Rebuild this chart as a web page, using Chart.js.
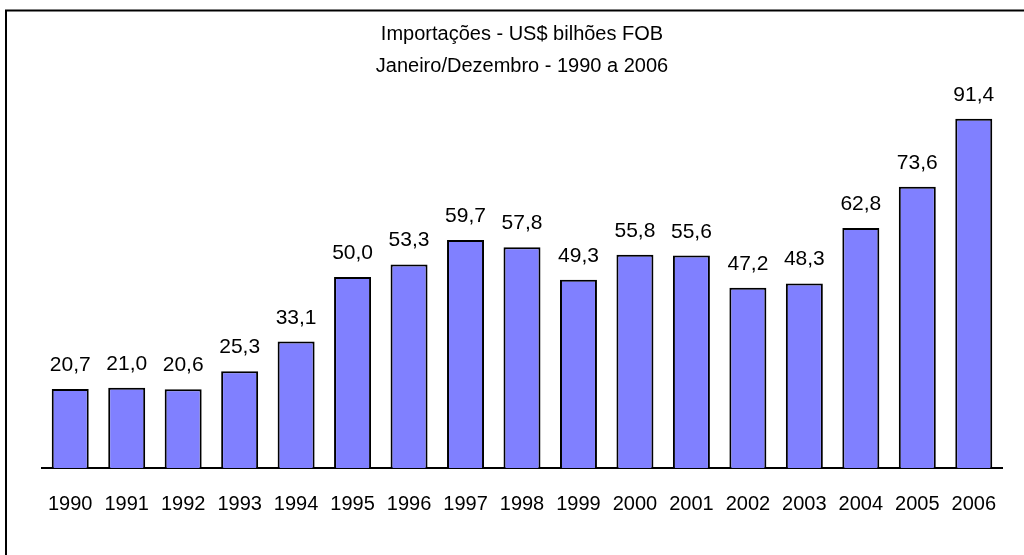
<!DOCTYPE html>
<html>
<head>
<meta charset="utf-8">
<script src="https://cdn.jsdelivr.net/npm/chart.js@4.4.1/dist/chart.umd.min.js"></script>
<style>
  html, body { margin: 0; padding: 0; background: #fff; overflow: hidden; }
  #wrap { width: 1024px; height: 555px; position: relative; }
</style>
</head>
<body>
<div id="wrap"><canvas id="chart" width="1024" height="555"></canvas></div>
<script>
const years = ["1990", "1991", "1992", "1993", "1994", "1995", "1996", "1997", "1998",
  "1999", "2000", "2001", "2002", "2003", "2004", "2005", "2006"];
const imports = [20.7, 21.0, 20.6, 25.3, 33.1, 50.0, 53.3, 59.7, 57.8,
  49.3, 55.8, 55.6, 47.2, 48.3, 62.8, 73.6, 91.4];
const titleLines = ["Importações - US$ bilhões FOB", "Janeiro/Dezembro - 1990 a 2006"];

const FONT = "Arial, 'Liberation Sans', sans-serif";

// moldura preta em volta do grafico
const frame = {
  id: "frame",
  beforeDraw(chart) {
    const ctx = chart.ctx;
    ctx.save();
    ctx.fillStyle = "#fff";
    ctx.fillRect(0, 0, chart.width, chart.height);
    ctx.strokeStyle = "#000";
    ctx.lineWidth = 2;
    ctx.strokeRect(6, 10.5, chart.width + 20, chart.height + 20);
    ctx.restore();
  }
};

// valores acima das barras, com virgula decimal
const valueLabels = {
  id: "valueLabels",
  afterDatasetsDraw(chart) {
    const ctx = chart.ctx;
    const meta = chart.getDatasetMeta(0);
    ctx.save();
    ctx.font = "21px " + FONT;
    ctx.fillStyle = "#000";
    ctx.textAlign = "center";
    ctx.textBaseline = "alphabetic";
    meta.data.forEach((bar, i) => {
      const txt = imports[i].toFixed(1).replace(".", ",");
      ctx.fillText(txt, bar.x, bar.y - 18);
    });
    ctx.restore();
  }
};

new Chart(document.getElementById("chart"), {
  type: "bar",
  data: {
    labels: years,
    datasets: [{
      data: imports,
      backgroundColor: "#8080FF",
      borderColor: "#000",
      borderWidth: 2,
      borderSkipped: "bottom",
      categoryPercentage: 1,
      barPercentage: 0.655
    }]
  },
  options: {
    responsive: false,
    animation: false,
    layout: { padding: { left: 42, right: 22, top: 0, bottom: 15 } },
    plugins: {
      legend: { display: false },
      tooltip: { enabled: false },
      title: {
        display: true,
        text: titleLines,
        color: "#000",
        font: { family: FONT, size: 20, weight: "normal", lineHeight: 1.575 },
        padding: { top: 19, bottom: 4 }
      }
    },
    scales: {
      x: {
        grid: { display: false, drawTicks: false },
        border: { display: true, color: "#000", width: 2 },
        ticks: { color: "#000", font: { family: FONT, size: 20 }, padding: 24, maxRotation: 0, autoSkip: false }
      },
      y: {
        display: false,
        min: 0,
        max: 100
      }
    }
  },
  plugins: [frame, valueLabels]
});
</script>
</body>
</html>
